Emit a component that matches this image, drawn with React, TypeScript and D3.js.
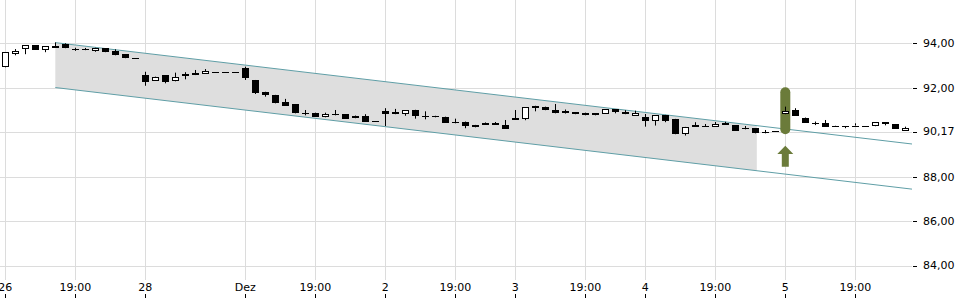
import React from "react";
import * as d3 from "d3";

// ---- data ----
const opens = [
  92.92, 93.53, 93.73, 93.91, 93.69, 93.89, 93.95, 93.74, 93.76, 93.67,
  93.78, 93.65, 93.51, 93.33, 92.57, 92.32, 92.57, 92.29, 92.52, 92.65,
  92.62, 92.7, 92.7, 92.7, 92.88, 92.35, 91.82, 91.68, 91.36, 91.27,
  90.88, 90.88, 90.7, 90.84, 90.81, 90.63, 90.75, 90.52, 90.97, 90.9,
  90.81, 91.01, 90.73, 90.74, 90.7, 90.48, 90.48, 90.22, 90.4, 90.42,
  90.34, 90.64, 90.58, 91.19, 91.15, 91.0, 90.96, 90.91, 90.88, 90.76,
  90.82, 91.03, 90.9, 90.75, 90.7, 90.49, 90.78, 90.6, 89.91, 90.34,
  90.27, 90.25, 90.4, 90.31, 90.2, 90.19, 90.03, 90.06, 90.81, 91.0,
  90.66, 90.4, 90.43, 90.29, 90.28, 90.3, 90.3, 90.27, 90.46, 90.37,
  90.07,
];
const closes = [
  93.6, 93.67, 93.91, 93.71, 93.86, 93.8, 93.78, 93.74, 93.69, 93.8,
  93.6, 93.46, 93.33, 93.33, 92.27, 92.5, 92.27, 92.48, 92.61, 92.57,
  92.74, 92.7, 92.7, 92.7, 92.43, 91.78, 91.68, 91.3, 91.19, 90.85,
  90.88, 90.7, 90.84, 90.76, 90.61, 90.75, 90.47, 90.52, 90.81, 90.81,
  90.99, 90.72, 90.71, 90.67, 90.43, 90.4, 90.28, 90.33, 90.34, 90.34,
  90.16, 90.57, 91.12, 91.1, 90.99, 90.88, 90.88, 90.81, 90.76, 90.85,
  91.03, 90.9, 90.81, 90.87, 90.52, 90.76, 90.51, 89.91, 90.24, 90.25,
  90.27, 90.37, 90.33, 90.07, 90.13, 89.95, 89.95, 90.06, 90.96, 90.73,
  90.43, 90.4, 90.24, 90.24, 90.22, 90.3, 90.3, 90.45, 90.39, 90.15,
  90.17,
];
const highs = [
  93.6, 93.74, 93.91, 93.91, 93.86, 94.04, 94.0, 93.8, 93.79, 93.8,
  93.78, 93.73, 93.51, 93.33, 92.72, 92.5, 92.57, 92.68, 92.7, 92.8,
  92.84, 92.7, 92.7, 92.7, 92.95, 92.35, 91.82, 91.68, 91.5, 91.27,
  91.0, 90.88, 90.88, 91.0, 90.81, 90.75, 90.81, 90.52, 91.08, 91.05,
  90.99, 91.01, 90.94, 90.74, 90.7, 90.61, 90.48, 90.33, 90.44, 90.46,
  90.55, 91.0, 91.12, 91.19, 91.15, 91.27, 91.02, 90.91, 90.88, 90.85,
  91.03, 91.03, 90.99, 90.97, 90.82, 90.76, 90.78, 90.6, 90.24, 90.45,
  90.37, 90.46, 90.47, 90.31, 90.28, 90.19, 90.1, 90.06, 91.15, 91.08,
  90.66, 90.48, 90.55, 90.29, 90.28, 90.4, 90.3, 90.45, 90.46, 90.37,
  90.25,
];
const lows = [
  92.92, 93.46, 93.51, 93.71, 93.6, 93.8, 93.78, 93.66, 93.69, 93.62,
  93.6, 93.46, 93.33, 93.33, 92.09, 92.32, 92.2, 92.29, 92.38, 92.57,
  92.62, 92.7, 92.7, 92.7, 92.35, 91.72, 91.6, 91.3, 91.19, 90.85,
  90.76, 90.7, 90.67, 90.76, 90.61, 90.63, 90.47, 90.52, 90.28, 90.81,
  90.74, 90.61, 90.58, 90.67, 90.43, 90.4, 90.18, 90.22, 90.34, 90.34,
  90.16, 90.57, 90.54, 90.94, 90.99, 90.85, 90.84, 90.81, 90.76, 90.76,
  90.82, 90.85, 90.81, 90.75, 90.25, 90.3, 90.45, 89.91, 89.85, 90.25,
  90.27, 90.25, 90.33, 90.07, 90.13, 89.95, 89.95, 90.06, 90.81, 90.73,
  90.43, 90.32, 90.24, 90.24, 90.18, 90.3, 90.3, 90.27, 90.31, 90.15,
  90.07,
];

const xTickIndex = [0, 7, 14, 24, 31, 38, 45, 51, 58, 64, 71, 78, 85];
const xTickLabels = ["26", "19:00", "28", "Dez", "19:00", "2", "19:00", "3", "19:00", "4", "19:00", "5", "19:00"];

const yGridValues = [84, 86, 88, 90, 92, 94];
const yTickValues = [84, 86, 88, 90, 92, 94];
const yLabelTexts = ["84,00", "86,00", "88,00", "90,17", "92,00", "94,00"];

// trend channel: [startIndex, endIndex], [upperStart, upperEnd], [lowerStart, lowerEnd]
const channelIndex = [5, 90.67];
const channelUpper = [94.03, 89.47];
const channelLower = [92.01, 87.44];
const channelShadeEnd = 75.15;

// signal marker at index 78
const signalIndex = 78;
const signalRange = [89.91, 92.02];
const arrowValues = [89.39, 89.02, 88.45]; // tip, head base, shaft bottom

export default function App() {
  const W = 960;
  const H = 300;
  const x = d3.scaleLinear().domain([0, 90]).range([5.3, 905.3]);
  const y = d3.scaleLinear().domain([84, 94]).range([265.6, 43.3]);
  const plotRight = 912;
  const gridBottom = 280;
  const font = "'DejaVu Sans', sans-serif";
  const gridColor = "#dcdcdc";
  const channelColor = "#5f9ea6";
  const green = "#6b7b3a";

  const chanAt = (arr: number[], i: number) =>
    arr[0] + ((arr[1] - arr[0]) * (i - channelIndex[0])) / (channelIndex[1] - channelIndex[0]);

  const shadePts: [number, number][] = [
    [x(channelIndex[0]), y(channelUpper[0])],
    [x(channelShadeEnd), y(chanAt(channelUpper, channelShadeEnd))],
    [x(channelShadeEnd), y(chanAt(channelLower, channelShadeEnd))],
    [x(channelIndex[0]), y(channelLower[0])],
  ];
  const line = d3.line<[number, number]>();

  const sx = x(signalIndex);
  const arrowPath =
    `M${sx},${y(arrowValues[0])} L${sx + 8},${y(arrowValues[1])} L${sx + 3.5},${y(arrowValues[1])} ` +
    `L${sx + 3.5},${y(arrowValues[2])} L${sx - 3.5},${y(arrowValues[2])} L${sx - 3.5},${y(arrowValues[1])} ` +
    `L${sx - 8},${y(arrowValues[1])} Z`;

  return (
    <svg
      width={W}
      height={H}
      style={{ position: "fixed", left: 0, top: 0, background: "#fff" }}
      fontFamily={font}
      fontSize={11}
    >
      {/* grid */}
      {yGridValues.map((v) => (
        <line key={"gy" + v} x1={0} x2={plotRight} y1={Math.round(y(v)) + 0.5} y2={Math.round(y(v)) + 0.5} stroke={gridColor} />
      ))}
      {xTickIndex.map((i) => (
        <line key={"gx" + i} x1={Math.round(x(i)) + 0.5} x2={Math.round(x(i)) + 0.5} y1={0} y2={gridBottom} stroke={gridColor} />
      ))}

      {/* channel */}
      <path d={line(shadePts) + "Z"} fill="#dedede" />
      <line x1={x(channelIndex[0])} y1={y(channelUpper[0])} x2={x(channelIndex[1])} y2={y(channelUpper[1])} stroke={channelColor} strokeWidth={1} />
      <line x1={x(channelIndex[0])} y1={y(channelLower[0])} x2={x(channelIndex[1])} y2={y(channelLower[1])} stroke={channelColor} strokeWidth={1} />

      {/* signal */}
      <rect
        x={sx - 5}
        y={y(signalRange[1])}
        width={10}
        height={y(signalRange[0]) - y(signalRange[1])}
        rx={5}
        fill={green}
      />
      <path d={arrowPath} fill={green} />

      {/* candles */}
      {opens.map((o, i) => {
        const c = closes[i];
        const cx = Math.round(x(i)) + 0.5;
        const up = c > o;
        const top = Math.round(y(Math.max(o, c)));
        const bot = Math.round(y(Math.min(o, c)));
        const h = Math.max(1, bot - top);
        return (
          <g key={"c" + i}>
            <line x1={cx} x2={cx} y1={y(highs[i])} y2={y(lows[i])} stroke="#000" strokeWidth={1} />
            {up ? (
              <rect x={cx - 3} y={top + 0.5} width={6} height={Math.max(1, h - 1)} fill="#fff" stroke="#000" strokeWidth={1} />
            ) : (
              <rect x={cx - 3.5} y={top} width={7} height={h} fill="#000" />
            )}
          </g>
        );
      })}

      {/* right axis */}
      {yTickValues.map((v, k) => (
        <g key={"yl" + v}>
          <line x1={913} x2={917} y1={Math.round(y(v)) + 0.5} y2={Math.round(y(v)) + 0.5} stroke="#000" />
          <text x={923} y={y(v) - (v === 90 ? 1.5 : 0)} dy="0.35em" fill="#000">
            {yLabelTexts[k]}
          </text>
        </g>
      ))}

      {/* bottom axis */}
      {xTickIndex.map((i, k) => (
        <g key={"xl" + i}>
          <text x={x(i)} y={291} textAnchor="middle" fill="#000">
            {xTickLabels[k]}
          </text>
          <line x1={Math.round(x(i)) + 0.5} x2={Math.round(x(i)) + 0.5} y1={294} y2={298} stroke="#000" />
        </g>
      ))}
    </svg>
  );
}
